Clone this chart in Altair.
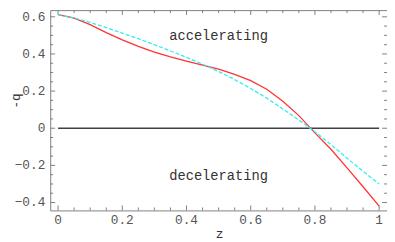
import altair as alt
import pandas as pd

# ---- data ----
z_vals = [0.0, 0.05, 0.1, 0.15, 0.2, 0.25, 0.3, 0.35, 0.4, 0.45, 0.5,
          0.55, 0.6, 0.65, 0.7, 0.75, 0.8, 0.85, 0.9, 0.95, 1.0]
q_red = [0.612, 0.593, 0.558, 0.515, 0.476, 0.441, 0.410, 0.384, 0.362, 0.340, 0.318,
         0.290, 0.256, 0.210, 0.145, 0.068, -0.025, -0.113, -0.213, -0.315, -0.419]
q_cyan = [0.612, 0.594, 0.570, 0.542, 0.512, 0.482, 0.450, 0.416, 0.382, 0.345, 0.305,
          0.262, 0.214, 0.162, 0.104, 0.044, -0.019, -0.088, -0.161, -0.232, -0.300]

x_major = [0, 0.2, 0.4, 0.6, 0.8, 1.0]
x_labels = ["0", "0.2", "0.4", "0.6", "0.8", "1"]
x_minor = [0.05, 0.1, 0.15, 0.25, 0.3, 0.35, 0.45, 0.5, 0.55,
           0.65, 0.7, 0.75, 0.85, 0.9, 0.95]
y_major = [-0.4, -0.2, 0, 0.2, 0.4, 0.6]
y_labels = ["\u22120.4", "\u22120.2", "0", "0.2", "0.4", "0.6"]
y_minor = [-0.35, -0.3, -0.25, -0.15, -0.1, -0.05, 0.05, 0.1, 0.15,
           0.25, 0.3, 0.35, 0.45, 0.5, 0.55]

ann_text = ["accelerating", "decelerating"]
ann_z = [0.5, 0.5]
ann_q = [0.475, -0.28]

zero_z = [0.0]
zero_z2 = [1.0]
zero_q = [0.0]

# ---- layout ----
W, H = 343, 204
FONT = "Liberation Mono"
FRAME = "#808080"

xs = alt.Scale(domain=[-0.0245, 1.0245], nice=False, zero=False)
ys = alt.Scale(domain=[-0.4425, 0.636], nice=False, zero=False)

AX_STYLE = dict(labelFont=FONT, labelFontSize=13, labelColor="#555555",
                domain=False, ticks=False, grid=False, labels=False,
                titleFont=FONT, titleFontSize=13, titleFontWeight="normal",
                titleColor="#333333", titleAlign="center", titleBaseline="middle")

XA = alt.Axis(values=x_major, title="z", titleX=172, titleY=24, **AX_STYLE)
YA = alt.Axis(values=y_major, title="-q", titleAngle=270, titleX=-35, titleY=92,
              **AX_STYLE)

df_red = pd.DataFrame({"z": z_vals, "q": q_red})
df_cyan = pd.DataFrame({"z": z_vals, "q": q_cyan})

red = alt.Chart(df_red).mark_line(color="#ff3333", strokeWidth=1.3).encode(
    x=alt.X("z:Q", scale=xs, axis=XA),
    y=alt.Y("q:Q", scale=ys, axis=YA),
)

cyan = alt.Chart(df_cyan).mark_line(color="#33eeee", strokeWidth=1.3,
                                    strokeDash=[4, 2]).encode(
    x=alt.X("z:Q", scale=xs, axis=XA),
    y=alt.Y("q:Q", scale=ys, axis=YA),
)

zero = alt.Chart(pd.DataFrame({"z": zero_z, "z2": zero_z2, "q": zero_q})).mark_rule(
    color="#404040", strokeWidth=1.5).encode(
    x=alt.X("z:Q", scale=xs, axis=XA),
    x2="z2:Q",
    y=alt.Y("q:Q", scale=ys, axis=YA),
)

ann = alt.Chart(pd.DataFrame({"t": ann_text, "z": ann_z, "q": ann_q})).mark_text(
    font=FONT, fontSize=14, color="#333333", baseline="alphabetic", align="center").encode(
    x=alt.X("z:Q", scale=xs, axis=XA),
    y=alt.Y("q:Q", scale=ys, axis=YA),
    text="t:N",
)

xlab = alt.Chart(pd.DataFrame({"v": x_major, "t": x_labels})).mark_text(
    font=FONT, fontSize=13, color="#555555", baseline="top", align="center").encode(
    x=alt.X("v:Q", scale=xs, axis=XA),
    y=alt.value(H + 4),
    text="t:N",
)

ylab = alt.Chart(pd.DataFrame({"v": y_major, "t": y_labels})).mark_text(
    font=FONT, fontSize=13, color="#555555", baseline="middle", align="right").encode(
    y=alt.Y("v:Q", scale=ys, axis=YA),
    x=alt.value(-5),
    text="t:N",
)


def xticks(vals, length):
    d = pd.DataFrame({"v": vals})
    bottom = alt.Chart(d).mark_rule(color=FRAME, strokeWidth=1).encode(
        x=alt.X("v:Q", scale=xs, axis=XA), y=alt.value(H), y2=alt.value(H - length))
    top = alt.Chart(d).mark_rule(color=FRAME, strokeWidth=1).encode(
        x=alt.X("v:Q", scale=xs, axis=XA), y=alt.value(0), y2=alt.value(length))
    return [bottom, top]


def yticks(vals, length):
    d = pd.DataFrame({"v": vals})
    left = alt.Chart(d).mark_rule(color=FRAME, strokeWidth=1).encode(
        y=alt.Y("v:Q", scale=ys, axis=YA), x=alt.value(0), x2=alt.value(length))
    right = alt.Chart(d).mark_rule(color=FRAME, strokeWidth=1).encode(
        y=alt.Y("v:Q", scale=ys, axis=YA), x=alt.value(W), x2=alt.value(W - length))
    return [left, right]


layers = ([red] + xticks(x_major, 5) + xticks(x_minor, 3) +
          yticks(y_major, 5) + yticks(y_minor, 3) +
          [zero, cyan, ann, xlab, ylab])

chart = alt.layer(*layers).properties(
    width=W, height=H,
    autosize=alt.AutoSizeParams(type="none"),
    padding={"left": 43, "top": 0, "right": 0, "bottom": 30},
    background="white",
).configure(
    font=FONT,
).configure_view(stroke=FRAME, strokeWidth=1)

chart.save("out.html", embed_options={"renderer": "svg", "actions": False})
